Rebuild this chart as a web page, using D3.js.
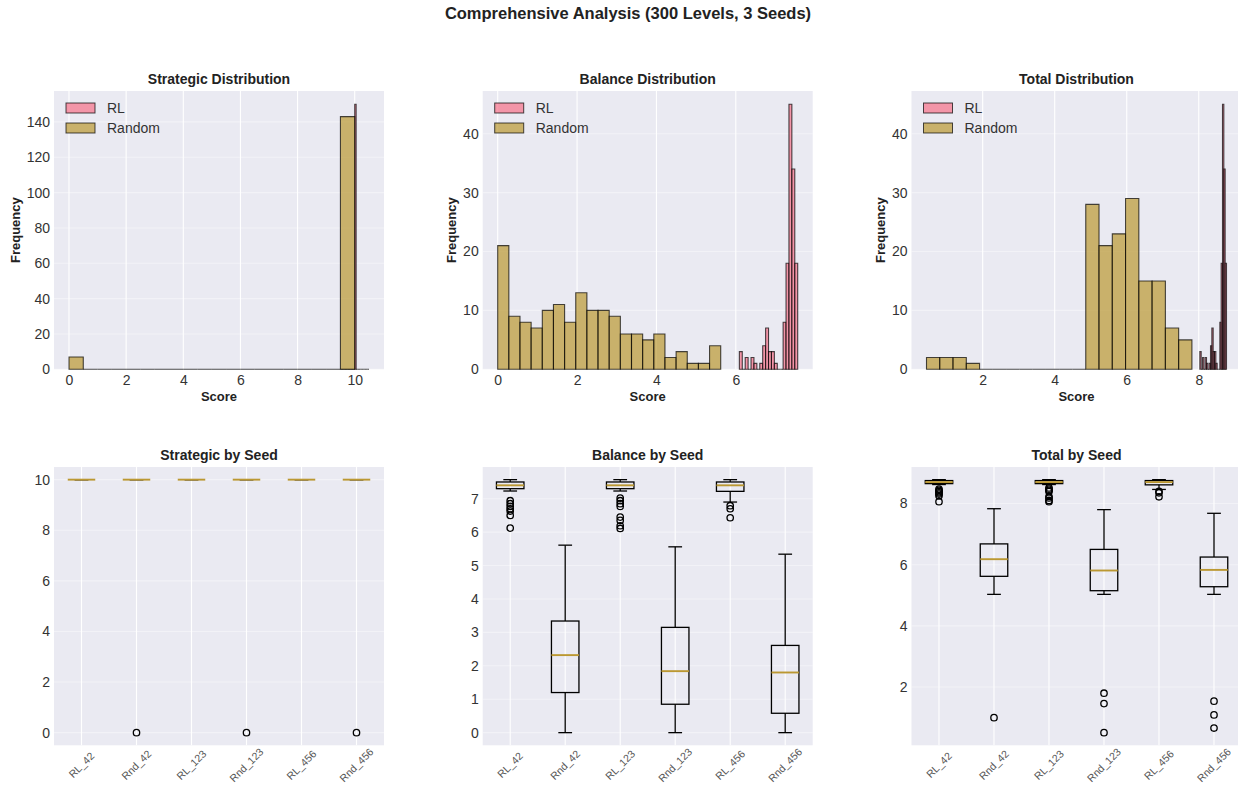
<!DOCTYPE html>
<html>
<head>
<meta charset="utf-8">
<script src="https://cdn.jsdelivr.net/npm/d3@7/dist/d3.min.js"></script>
<style>
  body { margin: 0; background: #fff; }
  svg { font-family: "Liberation Sans", Arial, sans-serif; }
</style>
</head>
<body>
<svg width="1238" height="793"></svg>
<script>
// ---- data ----
var seedLabels = ["RL_42", "Rnd_42", "RL_123", "Rnd_123", "RL_456", "Rnd_456"];

// histograms: 20 equal bins between range[0] and range[1]
var strategicRLRange = [9.5, 10.5];
var strategicRLCounts = [0,0,0,0,0,0,0,0,0,0,150,0,0,0,0,0,0,0,0,0];
var strategicRndRange = [0, 10];
var strategicRndCounts = [7,0,0,0,0,0,0,0,0,0,0,0,0,0,0,0,0,0,0,143];

var balanceRLRange = [6.09, 7.56];
var balanceRLCounts = [3,0,2,0,2,1,0,1,4,7,3,3,1,0,0,8,18,45,34,18];
var balanceRndRange = [0, 5.62];
var balanceRndCounts = [21,9,8,7,10,11,8,13,10,10,9,6,6,5,6,2,3,1,1,4];

var totalRLRange = [8.03, 8.77];
var totalRLCounts = [3,0,2,0,2,1,0,1,4,7,3,3,1,0,0,8,18,45,34,18];
var totalRndRange = [0.44, 7.81];
var totalRndCounts = [2,2,2,1,0,0,0,0,0,0,0,0,28,21,23,29,15,15,7,5];

// boxplots: [lower whisker, q1, median, q3, upper whisker]
var strategicBoxes = [[10,10,10,10,10],[10,10,10,10,10],[10,10,10,10,10],
                      [10,10,10,10,10],[10,10,10,10,10],[10,10,10,10,10]];
var strategicFliers = [[], [0], [], [0], [], [0]];

var balanceBoxes = [[7.23, 7.30, 7.40, 7.50, 7.57],
                    [0, 1.20, 2.32, 3.34, 5.61],
                    [7.23, 7.30, 7.40, 7.50, 7.57],
                    [0, 0.85, 1.84, 3.15, 5.56],
                    [6.90, 7.22, 7.40, 7.50, 7.57],
                    [0, 0.58, 1.80, 2.61, 5.34]];
var balanceFliers = [[6.94, 6.85, 6.77, 6.70, 6.63, 6.50, 6.12],
                     [],
                     [7.02, 6.94, 6.85, 6.77, 6.45, 6.35, 6.19, 6.11],
                     [],
                     [6.79, 6.70, 6.43],
                     []];

var totalBoxes = [[8.62, 8.65, 8.70, 8.75, 8.78],
                  [5.03, 5.62, 6.18, 6.68, 7.83],
                  [8.62, 8.65, 8.70, 8.75, 8.78],
                  [5.03, 5.15, 5.81, 6.50, 7.80],
                  [8.46, 8.61, 8.70, 8.75, 8.78],
                  [5.03, 5.28, 5.83, 6.25, 7.68]];
var totalFliers = [[8.47, 8.43, 8.39, 8.35, 8.31, 8.25, 8.06],
                   [1.0],
                   [8.51, 8.47, 8.43, 8.39, 8.23, 8.18, 8.10, 8.06],
                   [1.80, 1.46, 0.51],
                   [8.40, 8.35, 8.22],
                   [1.54, 1.09, 0.66]];

// ---- layout ----
var svg = d3.select("svg");
var colX = [54, 482.7, 911.5], rowY = [91, 467];
var pw = 330, ph = 278.3;
var rlColor = "#f77189", rndColor = "#bb9832";
var bg = "#eaeaf2", txt = "#333";

svg.append("text")
  .attr("x", 628).attr("y", 19)
  .attr("text-anchor", "middle")
  .attr("font-size", 16.5).attr("font-weight", "bold").attr("fill", "#222")
  .text("Comprehensive Analysis (300 Levels, 3 Seeds)");

function padded(lo, hi) {
  var r = hi - lo;
  return [lo - 0.05 * r, hi + 0.05 * r];
}

function makePanel(col, row, title) {
  var g = svg.append("g").attr("transform", "translate(" + colX[col] + "," + rowY[row] + ")");
  g.append("rect").attr("width", pw).attr("height", ph).attr("fill", bg);
  g.append("text")
    .attr("x", pw / 2).attr("y", -7)
    .attr("text-anchor", "middle")
    .attr("font-size", 14).attr("font-weight", "bold").attr("fill", "#222")
    .text(title);
  return g;
}

function drawGrid(g, x, y, xt, yt) {
  g.append("g").selectAll("line").data(xt).enter().append("line")
    .attr("x1", function(d) { return x(d); }).attr("x2", function(d) { return x(d); })
    .attr("y1", 0).attr("y2", ph)
    .attr("stroke", "#fff").attr("stroke-width", 1.1);
  g.append("g").selectAll("line").data(yt).enter().append("line")
    .attr("x1", 0).attr("x2", pw)
    .attr("y1", function(d) { return y(d); }).attr("y2", function(d) { return y(d); })
    .attr("stroke", "#fff").attr("stroke-width", 1.1).attr("stroke-opacity", 0.4);
}

function yAxis(g, y, yt) {
  var ax = g.append("g").call(d3.axisLeft(y).tickValues(yt).tickSize(0).tickPadding(4));
  ax.select(".domain").remove();
  ax.selectAll("text").attr("font-size", 14).attr("fill", txt).attr("font-family", null);
}

function histBars(g, x, y, range, counts, color) {
  var w = (range[1] - range[0]) / counts.length;
  g.append("g").selectAll("path").data(counts).enter().append("path")
    .attr("d", function(c, i) {
      var x0 = x(range[0] + i * w), x1 = x(range[0] + (i + 1) * w);
      return "M" + x0 + "," + y(0) + "V" + y(c) + "H" + x1 + "V" + y(0) + "Z";
    })
    .attr("fill", color).attr("fill-opacity", 0.7)
    .attr("stroke", "#000").attr("stroke-opacity", 0.7).attr("stroke-width", 1.1);
}

function drawHist(col, title, rlRange, rlCounts, rndRange, rndCounts, xt, yt, ylabX) {
  var g = makePanel(col, 0, title);
  var lo = Math.min(rlRange[0], rndRange[0]), hi = Math.max(rlRange[1], rndRange[1]);
  var x = d3.scaleLinear().domain(padded(lo, hi)).range([0, pw]);
  var maxC = d3.max(rlCounts.concat(rndCounts));
  var y = d3.scaleLinear().domain([0, maxC * 1.05]).range([ph, 0]);
  drawGrid(g, x, y, xt, yt);

  histBars(g, x, y, rlRange, rlCounts, rlColor);
  histBars(g, x, y, rndRange, rndCounts, rndColor);

  var xa = g.append("g").attr("transform", "translate(0," + ph + ")")
    .call(d3.axisBottom(x).tickValues(xt).tickSize(0).tickPadding(6));
  xa.select(".domain").remove();
  xa.selectAll("text").attr("font-size", 14).attr("fill", txt).attr("font-family", null);
  yAxis(g, y, yt);

  g.append("text").attr("x", pw / 2).attr("y", ph + 32)
    .attr("text-anchor", "middle").attr("font-size", 13).attr("font-weight", "bold").attr("fill", "#222")
    .text("Score");
  g.append("text").attr("transform", "translate(" + ylabX + "," + ph / 2 + ") rotate(-90)")
    .attr("text-anchor", "middle").attr("font-size", 13).attr("font-weight", "bold").attr("fill", "#222")
    .text("Frequency");

  // legend
  var leg = g.append("g").attr("transform", "translate(12,12)");
  [["RL", rlColor], ["Random", rndColor]].forEach(function(d, i) {
    leg.append("rect").attr("x", 0).attr("y", i * 20).attr("width", 29).attr("height", 10)
      .attr("fill", d[1]).attr("fill-opacity", 0.7)
      .attr("stroke", "#000").attr("stroke-opacity", 0.7).attr("stroke-width", 1);
    leg.append("text").attr("x", 41).attr("y", i * 20 + 5).attr("dy", "0.35em")
      .attr("font-size", 14).attr("fill", txt).text(d[0]);
  });
}

function drawBox(col, title, boxes, fliers, yt) {
  var g = makePanel(col, 1, title);
  var x = d3.scaleLinear().domain([0.5, seedLabels.length + 0.5]).range([0, pw]);
  var allV = d3.merge(boxes.concat(fliers));
  var y = d3.scaleLinear().domain(padded(d3.min(allV), d3.max(allV))).range([ph, 0]);
  var pos = d3.range(1, seedLabels.length + 1);
  drawGrid(g, x, y, pos, yt);

  var hw = x(0.25) - x(0), cw = x(0.125) - x(0);
  boxes.forEach(function(b, i) {
    var cx = x(i + 1);
    var bx = g.append("g").attr("stroke", "#000").attr("stroke-width", 1.3).attr("fill", "none");
    bx.append("line").attr("x1", cx).attr("x2", cx).attr("y1", y(b[0])).attr("y2", y(b[1]));
    bx.append("line").attr("x1", cx).attr("x2", cx).attr("y1", y(b[3])).attr("y2", y(b[4]));
    bx.append("line").attr("x1", cx - cw).attr("x2", cx + cw).attr("y1", y(b[0])).attr("y2", y(b[0]));
    bx.append("line").attr("x1", cx - cw).attr("x2", cx + cw).attr("y1", y(b[4])).attr("y2", y(b[4]));
    bx.append("rect").attr("x", cx - hw).attr("width", 2 * hw)
      .attr("y", y(b[3])).attr("height", Math.max(0, y(b[1]) - y(b[3])));
    g.append("line").attr("x1", cx - hw).attr("x2", cx + hw).attr("y1", y(b[2])).attr("y2", y(b[2]))
      .attr("stroke", rndColor).attr("stroke-width", 1.9);
    g.append("g").selectAll("circle").data(fliers[i]).enter().append("circle")
      .attr("cx", cx).attr("cy", function(d) { return y(d); }).attr("r", 3.2)
      .attr("fill", "none").attr("stroke", "#000").attr("stroke-width", 1.3);
  });

  yAxis(g, y, yt);
  g.append("g").selectAll("text").data(seedLabels).enter().append("text")
    .attr("transform", function(d, i) { return "translate(" + x(i + 1) + "," + (ph + 19.7) + ") rotate(-45)"; })
    .attr("text-anchor", "middle").attr("dy", "0.35em")
    .attr("font-size", 10.5).attr("fill", "#555")
    .text(function(d) { return d; });
}

drawHist(0, "Strategic Distribution", strategicRLRange, strategicRLCounts, strategicRndRange, strategicRndCounts,
  [0, 2, 4, 6, 8, 10], [0, 20, 40, 60, 80, 100, 120, 140], -34.5);
drawHist(1, "Balance Distribution", balanceRLRange, balanceRLCounts, balanceRndRange, balanceRndCounts,
  [0, 2, 4, 6], [0, 10, 20, 30, 40], -26.5);
drawHist(2, "Total Distribution", totalRLRange, totalRLCounts, totalRndRange, totalRndCounts,
  [2, 4, 6, 8], [0, 10, 20, 30, 40], -27);

drawBox(0, "Strategic by Seed", strategicBoxes, strategicFliers, [0, 2, 4, 6, 8, 10]);
drawBox(1, "Balance by Seed", balanceBoxes, balanceFliers, [0, 1, 2, 3, 4, 5, 6, 7]);
drawBox(2, "Total by Seed", totalBoxes, totalFliers, [2, 4, 6, 8]);
</script>
</body>
</html>
